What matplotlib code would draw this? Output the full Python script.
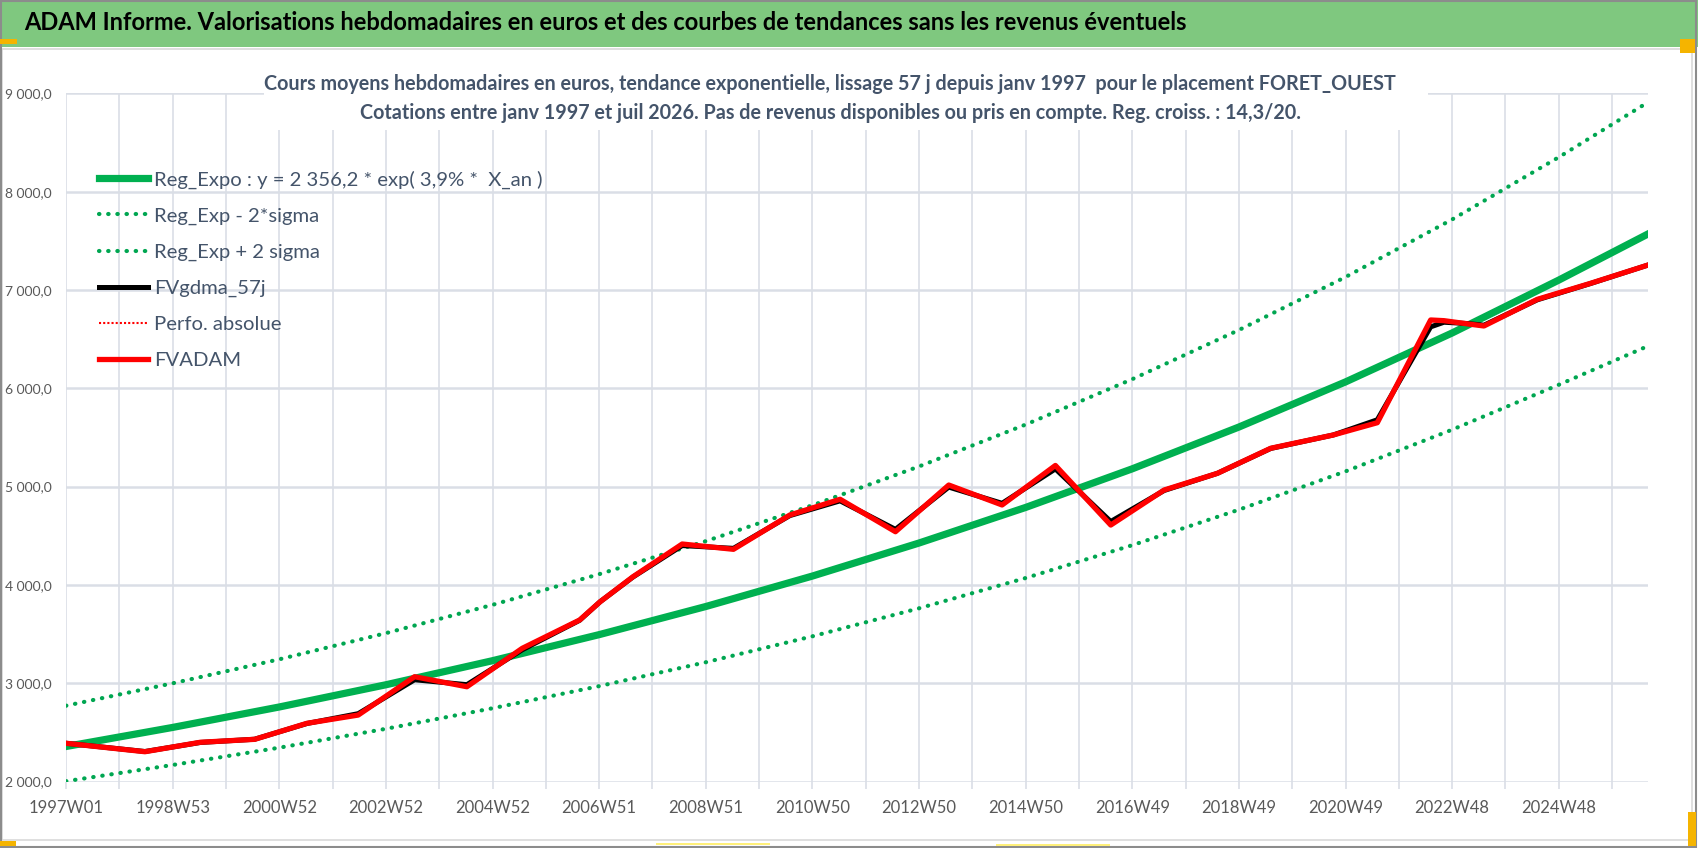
import matplotlib
matplotlib.use("Agg")
import matplotlib.pyplot as plt
from matplotlib import font_manager
from matplotlib.patches import Rectangle

names = {f.name for f in font_manager.fontManager.ttflist}
FONT = "Liberation Sans Narrow" if "Liberation Sans Narrow" in names else "Lato"
plt.rcParams["font.family"] = [FONT, "DejaVu Sans"]

# category axis: one point per week, 1997W01 = index 0
n_weeks = 1544
tick_pos = list(range(0, n_weeks, 104))
tick_labels = ["1997W01", "1998W53", "2000W52", "2002W52", "2004W52", "2006W51",
               "2008W51", "2010W50", "2012W50", "2014W50", "2016W49", "2018W49",
               "2020W49", "2022W48", "2024W48"]
y_ticks = [2000, 3000, 4000, 5000, 6000, 7000, 8000, 9000]

# regression curves (values read every two years + last week)
reg_weeks = [0, 104, 208, 312, 416, 520, 624, 728, 832, 936, 1040, 1144, 1248, 1352, 1456, 1543]
reg_expo = [2356, 2550, 2758, 2984, 3229, 3494, 3780, 4090, 4426, 4788, 5181, 5606, 6065, 6563, 7101, 7570]
reg_high = [2771, 2999, 3243, 3509, 3797, 4109, 4445, 4810, 5205, 5631, 6093, 6593, 7132, 7718, 8351, 8910]
reg_low = [2003, 2168, 2344, 2536, 2745, 2970, 3213, 3477, 3762, 4070, 4404, 4765, 5155, 5579, 6036, 6430]

# weekly valuations (break points)
adam_weeks = [0, 77, 131, 184, 235, 285, 340, 391, 445, 501, 521, 553, 601, 651, 706, 755,
              809, 861, 913, 965, 1019, 1071, 1123, 1175, 1236, 1279, 1331, 1344, 1368, 1383,
              1435, 1487, 1543]
fvadam = [2389, 2303, 2399, 2429, 2592, 2676, 3066, 2964, 3355, 3643, 3829, 4083, 4416, 4362,
          4711, 4871, 4541, 5016, 4813, 5215, 4609, 4965, 5135, 5390, 5525, 5650, 6695, 6688,
          6654, 6634, 6905, 7068, 7254]
fvgdma = [2389, 2305, 2397, 2430, 2590, 2690, 3035, 2985, 3340, 3640, 3829, 4080, 4400, 4372,
          4705, 4855, 4565, 4995, 4830, 5180, 4645, 4960, 5135, 5388, 5525, 5680, 6625, 6672,
          6658, 6642, 6900, 7066, 7254]

W, H = 1698, 848
fig = plt.figure(figsize=(W / 100, H / 100), dpi=100)
fig.patch.set_facecolor("white")


def fx(px):
    return px / W


def fy(py):
    return 1 - py / H


# header band + frames
fig.patches.append(Rectangle((0, fy(47)), 1, 47 / H, transform=fig.transFigure,
                             facecolor="#7FC87F", edgecolor="none", zorder=0))
fig.patches.append(Rectangle((fx(2), fy(840)), fx(1690), (840 - 49) / H, transform=fig.transFigure,
                             facecolor="none", edgecolor="#D9D9D9", lw=1.2, zorder=0))
fig.patches.append(Rectangle((fx(1), fy(847)), fx(1695), 846 / H, transform=fig.transFigure,
                             facecolor="none", edgecolor="#8C8C8C", lw=1.5, zorder=5))
for (x0, y0, w, h, c) in [(0, 39, 17, 5, "#F5B400"), (1680, 39, 15, 14, "#F5B400"),
                          (0, 841, 16, 5, "#F5B400"), (1688, 812, 8, 34, "#F5B400"),
                          (656, 843, 114, 2, "#FFF07A"), (996, 844, 114, 2, "#FFF07A")]:
    fig.patches.append(Rectangle((fx(x0), fy(y0 + h)), w / W, h / H, transform=fig.transFigure,
                                 facecolor=c, edgecolor="none", zorder=6))

fig.text(fx(24), fy(23), "ADAM Informe. Valorisations hebdomadaires en euros et des courbes "
         "de tendances sans les revenus éventuels", fontsize=17, fontweight="bold",
         color="black", ha="left", va="center")

ax = fig.add_axes([fx(66), fy(781.5), fx(1648 - 66), (781.5 - 93.4) / H])
ax.set_zorder(1)

grid_c = "#DADEE6"
ax.plot(reg_weeks, reg_low, color="#00A651", lw=3.0, linestyle=(0, (0.1, 2.1)),
        dash_capstyle="round", label="Reg_Exp - 2*sigma", zorder=3)
ax.plot(reg_weeks, reg_high, color="#00A651", lw=3.0, linestyle=(0, (0.1, 2.1)),
        dash_capstyle="round", label="Reg_Exp + 2 sigma", zorder=3)
ax.plot(reg_weeks, reg_expo, color="#00B050", lw=5.2,
        label="Reg_Expo : y = 2 356,2 * exp( 3,9% *  X_an )", zorder=4)
ax.plot(adam_weeks, fvgdma, color="black", lw=3.6, label="FVgdma_57j", zorder=5)
ax.plot(adam_weeks, fvadam, color="#FF0000", lw=1.5, linestyle=(0, (1, 1)),
        label="Perfo. absolue", zorder=5)
ax.plot(adam_weeks, fvadam, color="#FF0000", lw=3.8, label="FVADAM", zorder=6)

ax.set_xlim(0, n_weeks - 1)
ax.set_ylim(2000, 9000)
ax.set_xticks(tick_pos)
ax.set_xticklabels(tick_labels)
ax.set_xticks(list(range(0, n_weeks, 52)), minor=True)
ax.set_yticks(y_ticks)
ax.set_yticklabels([f"{v:,.1f}".replace(",", " ").replace(".", ",") for v in y_ticks])
ax.grid(axis="x", which="both", color=grid_c, lw=1.2)
ax.grid(axis="y", which="major", color=grid_c, lw=1.8)
ax.set_axisbelow(True)
for s in ax.spines.values():
    s.set_visible(False)
ax.tick_params(axis="x", which="both", direction="out", length=5, width=1.2,
               color=grid_c, labelsize=12, labelcolor="#595959", pad=8)
ax.tick_params(axis="y", length=0, labelsize=10, labelcolor="#595959", pad=10)

handles, labels = ax.get_legend_handles_labels()
order = [2, 0, 1, 3, 4, 5]
leg = ax.legend([handles[i] for i in order], [labels[i] for i in order],
                loc="upper left", bbox_to_anchor=(0.016, 0.90), frameon=False,
                fontsize=14.6, handlelength=2.4, handletextpad=0.3, labelspacing=0.92,
                borderaxespad=0)
for t in leg.get_texts():
    t.set_color("#44546A")

# chart title with its white box
fig.patches.append(Rectangle((fx(264), fy(130)), fx(1428 - 264), (130 - 50) / H,
                             transform=fig.transFigure, facecolor="white",
                             edgecolor="none", zorder=2))
fig.text(fx(830), fy(84), "Cours moyens hebdomadaires en euros, tendance exponentielle, lissage 57 j "
         "depuis janv 1997  pour le placement FORET_OUEST", fontsize=14.2, fontweight="bold",
         color="#44546A", ha="center", va="center", zorder=3)
fig.text(fx(830), fy(113), "Cotations entre janv 1997 et juil 2026. Pas de revenus disponibles ou "
         "pris en compte. Reg. croiss. : 14,3/20.", fontsize=14.2, fontweight="bold",
         color="#44546A", ha="center", va="center", zorder=3)

fig.savefig("out.png", dpi=100)
